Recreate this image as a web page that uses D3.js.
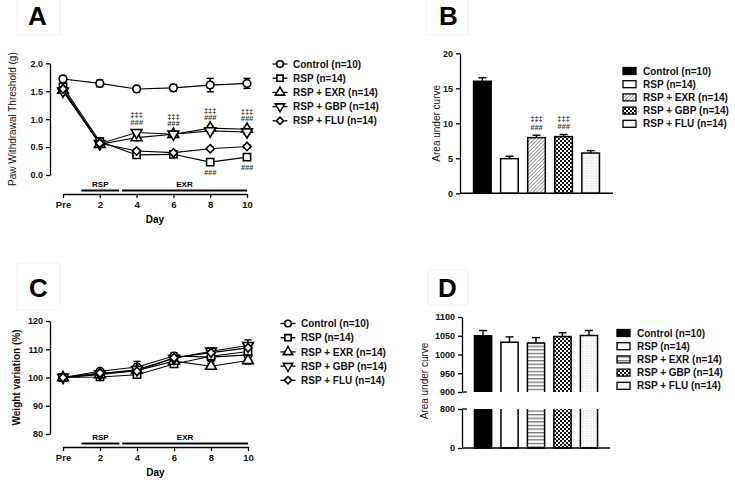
<!DOCTYPE html>
<html><head><meta charset="utf-8">
<script src="https://cdn.jsdelivr.net/npm/d3@7"></script>
<style>body{margin:0;background:#fff} svg{display:block;font-family:"Liberation Sans",Arial,sans-serif}</style>
</head><body><svg id="c" width="735" height="482"></svg>
<script>
// ---------- DATA ----------
const days = [0, 2, 4, 6, 8, 10];
const dayLabels = ["Pre", "2", "4", "6", "8", "10"];
const groups = ["Control (n=10)", "RSP (n=14)", "RSP + EXR (n=14)", "RSP + GBP (n=14)", "RSP + FLU (n=14)"];
const phaseLabels = ["RSP", "EXR"];
const phaseStart = [1, 3.2];
const phaseEnd = [3.05, 10];

// Panel A: paw withdrawal threshold (g)
const pawControl = [1.72, 1.64, 1.54, 1.56, 1.61, 1.64];
const pawRSP     = [1.58, 0.60, 0.36, 0.37, 0.23, 0.32];
const pawEXR     = [1.52, 0.55, 0.67, 0.73, 0.84, 0.82];
const pawGBP     = [1.50, 0.56, 0.76, 0.73, 0.79, 0.77];
const pawFLU     = [1.54, 0.57, 0.43, 0.40, 0.47, 0.51];
const pawControlErr = [0.05, 0.06, 0.05, 0.06, 0.12, 0.09];
const pawRSPErr     = [0.05, 0.04, 0.04, 0.03, 0.04, 0.04];
const pawEXRErr     = [0.04, 0.03, 0.05, 0.04, 0.04, 0.04];
const pawGBPErr     = [0.04, 0.03, 0.05, 0.04, 0.04, 0.04];
const pawFLUErr     = [0.04, 0.03, 0.03, 0.03, 0.03, 0.03];
const pawSigUpperDays = [4, 6, 8, 10];   // ‡‡‡ / ### above EXR & GBP
const pawSigRSPDays = [8, 10];           // ### below RSP

// Panel B: AUC of paw threshold
const aucPaw    = [16.0, 4.95, 7.95, 8.1, 5.75];
const aucPawErr = [0.5, 0.35, 0.35, 0.3, 0.35];
const aucPawSig = [false, false, true, true, false];

// Panel C: weight variation (%)
const wtControl = [100, 102.2, 103.7, 107.6, 107.2, 108.0];
const wtRSP     = [100, 100.2, 101.0, 104.8, 107.5, 109.2];
const wtEXR     = [100, 101.0, 102.5, 105.8, 104.0, 106.0];
const wtGBP     = [100, 101.3, 102.8, 106.8, 109.3, 111.3];
const wtFLU     = [100, 101.6, 102.2, 107.0, 108.8, 110.5];
const wtControlErr = [0.3, 0.5, 2.0, 1.2, 1.5, 1.5];
const wtRSPErr     = [0.3, 0.6, 1.0, 1.2, 1.4, 1.5];
const wtEXRErr     = [0.3, 0.7, 1.0, 1.0, 1.0, 1.2];
const wtGBPErr     = [0.3, 0.6, 1.0, 1.0, 1.2, 2.0];
const wtFLUErr     = [0.3, 0.6, 1.0, 1.0, 1.2, 1.5];

// Panel D: AUC of weight
const aucWt    = [1050, 1033, 1031, 1048, 1051];
const aucWtErr = [14, 14, 14, 10, 13];

const pawTicks = [0, 0.5, 1.0, 1.5, 2.0];
const aucPawTicks = [0, 5, 10, 15, 20];
const wtTicks = [80, 90, 100, 110, 120];
const aucWtTopTicks = [900, 950, 1000, 1050, 1100];
const aucWtBotTicks = [0, 800];

// ---------- DRAW ----------
const svg = d3.select("#c");
const defs = svg.append("defs");
// patterns
const ph = defs.append("pattern").attr("id","hatch").attr("patternUnits","userSpaceOnUse")
  .attr("width",2.6).attr("height",2.6).attr("patternTransform","rotate(45)");
ph.append("rect").attr("width",2.6).attr("height",2.6).attr("fill","#fff");
ph.append("line").attr("x1",0).attr("y1",0).attr("x2",0).attr("y2",2.6).attr("stroke","#555").attr("stroke-width",1.1);
const pc = defs.append("pattern").attr("id","check").attr("patternUnits","userSpaceOnUse").attr("width",4).attr("height",4);
pc.append("rect").attr("width",4).attr("height",4).attr("fill","#fff");
pc.append("rect").attr("width",2).attr("height",2).attr("fill","#111");
pc.append("rect").attr("x",2).attr("y",2).attr("width",2).attr("height",2).attr("fill","#111");
const pd = defs.append("pattern").attr("id","dots").attr("patternUnits","userSpaceOnUse").attr("width",2.5).attr("height",2.5);
pd.append("rect").attr("width",2.5).attr("height",2.5).attr("fill","#fff");
pd.append("rect").attr("x",0.5).attr("y",0.5).attr("width",0.9).attr("height",0.9).attr("fill","#b5b5b5");
const ps = defs.append("pattern").attr("id","hstripe").attr("patternUnits","userSpaceOnUse").attr("width",4).attr("height",3.6);
ps.append("rect").attr("width",4).attr("height",3.6).attr("fill","#fff");
ps.append("rect").attr("y",0).attr("width",4).attr("height",1.3).attr("fill","#777");

const fillsB = ["#000", "#fff", "url(#hatch)", "url(#check)", "url(#dots)"];
const fillsD = ["#000", "#fff", "url(#hstripe)", "url(#check)", "url(#dots)"];

// marker shapes
const symTypes = [d3.symbolCircle, d3.symbolSquare, d3.symbolTriangle, d3.symbolTriangle, d3.symbolSquare];
const symSizes = [46, 52, 50, 50, 34];
const symRot = [0, 0, 0, 180, 45];
function marker(g, i, x, y, scale) {
  const s = scale || 1;
  g.append("path").attr("d", d3.symbol().type(symTypes[i]).size(symSizes[i] * s)())
    .attr("transform", `translate(${x},${y}) rotate(${symRot[i]})`)
    .attr("fill", "#fff").attr("stroke", "#000").attr("stroke-width", 1.6);
}

function styleAxis(g) {
  g.selectAll("path.domain").attr("stroke", "#000").attr("stroke-width", 1.3);
  g.selectAll(".tick line").attr("stroke", "#000").attr("stroke-width", 1.3);
  g.selectAll(".tick text").attr("font-size", 9).attr("font-weight", "bold").attr("fill", "#111")
    .attr("font-family", "Liberation Sans, Arial, sans-serif");
}

function letter(txt, x, y, bx, by, bw, bh) {
  svg.append("rect").attr("x", bx).attr("y", by).attr("width", bw).attr("height", bh)
    .attr("fill", "none").attr("stroke", "#f0f0f0").attr("stroke-width", 1);
  svg.append("text").attr("x", x).attr("y", y).attr("font-size", 26).attr("font-weight", "bold").text(txt);
}

function lineChart(opts) {
  const { series, errs, x, y, yTicks, yFmt, xAxisY, yAxisX, title, titleX, titleBold, legX, legY0 } = opts;
  const g = svg.append("g");
  // y axis
  const ya = g.append("g").attr("transform", `translate(${yAxisX},0)`)
    .call(d3.axisLeft(y).tickValues(yTicks).tickFormat(yFmt).tickSize(4).tickSizeOuter(0));
  styleAxis(ya);
  // x axis
  const xa = g.append("g").attr("transform", `translate(0,${xAxisY})`)
    .call(d3.axisBottom(x).tickValues(days).tickFormat((d, i) => dayLabels[i]).tickSize(4).tickSizeOuter(0));
  styleAxis(xa);
  xa.selectAll(".tick text").attr("font-size", 9.5);
  // phase bars
  phaseLabels.forEach((lab, i) => {
    g.append("line").attr("x1", x(phaseStart[i])).attr("x2", x(phaseEnd[i]))
      .attr("y1", xAxisY - 3.5).attr("y2", xAxisY - 3.5).attr("stroke", "#000").attr("stroke-width", 2.2);
    g.append("text").attr("x", (x(phaseStart[i]) + x(phaseEnd[i])) / 2).attr("y", xAxisY - 7)
      .attr("text-anchor", "middle").attr("font-size", 8).attr("font-weight", "bold").text(lab);
  });
  // title
  g.append("text").attr("transform", `translate(${titleX},${(y.range()[0] + y.range()[1]) / 2}) rotate(-90)`)
    .attr("text-anchor", "middle").attr("font-size", 10).attr("font-weight", titleBold ? "bold" : "normal")
    .attr("fill", "#111").text(title);
  g.append("text").attr("x", (x(0) + x(10)) / 2).attr("y", xAxisY + 29).attr("text-anchor", "middle")
    .attr("font-size", 10).attr("font-weight", "bold").text("Day");
  // series
  const line = d3.line().x((d, i) => x(days[i])).y(d => y(d));
  series.forEach((s, si) => {
    g.append("path").attr("d", line(s)).attr("fill", "none").attr("stroke", "#000").attr("stroke-width", 1.1);
  });
  series.forEach((s, si) => {
    s.forEach((v, i) => {
      const e = errs[si][i];
      const cx = x(days[i]);
      g.append("line").attr("x1", cx).attr("x2", cx).attr("y1", y(v - e)).attr("y2", y(v + e)).attr("stroke", "#000").attr("stroke-width", 1.4);
      [v - e, v + e].forEach(w => g.append("line").attr("x1", cx - 3.5).attr("x2", cx + 3.5).attr("y1", y(w)).attr("y2", y(w)).attr("stroke", "#000").attr("stroke-width", 1.4));
    });
  });
  series.forEach((s, si) => {
    s.forEach((v, i) => marker(g, si, x(days[i]), y(v)));
  });
  // legend
  groups.forEach((name, i) => {
    const ly = legY0 + i * 14.2;
    g.append("line").attr("x1", legX - 7.5).attr("x2", legX + 7.5).attr("y1", ly).attr("y2", ly).attr("stroke", "#000").attr("stroke-width", 1.3);
    marker(g, i, legX, ly, 0.75);
    g.append("text").attr("x", legX + 13).attr("y", ly + 3.6).attr("font-size", 10).attr("font-weight", "bold").attr("fill", "#111").text(name);
  });
  return g;
}

// ---- Panel A ----
letter("A", 28, 25, 17, -1, 43, 36);
const xA = d3.scaleLinear().domain([0, 10]).range([63, 247]);
const yA = d3.scaleLinear().domain([0, 2]).range([175, 63.3]);
const gA = lineChart({
  series: [pawControl, pawRSP, pawEXR, pawGBP, pawFLU],
  errs: [pawControlErr, pawRSPErr, pawEXRErr, pawGBPErr, pawFLUErr],
  x: xA, y: yA, yTicks: pawTicks, yFmt: d3.format(".1f"), xAxisY: 194, yAxisX: 50,
  title: "Paw Withdrawal Threshold (g)", titleX: 16, titleBold: false, legX: 280, legY0: 64
});
pawSigUpperDays.forEach(d => {
  const i = days.indexOf(d);
  const top = yA(Math.max(pawEXR[i], pawGBP[i]));
  gA.append("text").attr("x", xA(d)).attr("y", top - 15.5).attr("text-anchor", "middle").attr("font-size", 7.5).attr("font-weight", "bold").attr("fill", "#333").text("‡‡‡");
  gA.append("text").attr("x", xA(d)).attr("y", top - 8).attr("text-anchor", "middle").attr("font-size", 7.5).attr("font-weight", "bold").attr("font-style", "italic").attr("fill", "#333").text("###");
});
pawSigRSPDays.forEach(d => {
  const i = days.indexOf(d);
  gA.append("text").attr("x", xA(d)).attr("y", yA(pawRSP[i]) + 13).attr("text-anchor", "middle").attr("font-size", 7.5).attr("font-weight", "bold").attr("font-style", "italic").attr("fill", "#333").text("###");
});

// ---- Panel C ----
letter("C", 29, 297, 17, 263, 43, 47);
const xC = d3.scaleLinear().domain([0, 10]).range([63, 248]);
const yC = d3.scaleLinear().domain([80, 120]).range([434, 321]);
lineChart({
  series: [wtControl, wtRSP, wtEXR, wtGBP, wtFLU],
  errs: [wtControlErr, wtRSPErr, wtEXRErr, wtGBPErr, wtFLUErr],
  x: xC, y: yC, yTicks: wtTicks, yFmt: d3.format("d"), xAxisY: 447, yAxisX: 50,
  title: "Weight variation (%)", titleX: 20, titleBold: true, legX: 288, legY0: 323.5
});

// bar legend
function barLegend(g, fills, x0, y0, tx) {
  groups.forEach((name, i) => {
    const ly = y0 + i * 13.2;
    g.append("rect").attr("x", x0).attr("y", ly - 3.5).attr("width", 13).attr("height", 7)
      .attr("fill", fills[i]).attr("stroke", "#000").attr("stroke-width", 1.3);
    g.append("text").attr("x", tx).attr("y", ly + 3.6).attr("font-size", 10).attr("font-weight", "bold").attr("fill", "#111").text(name);
  });
}
function errUp(g, cx, y0, y1) {
  g.append("line").attr("x1", cx).attr("x2", cx).attr("y1", y0).attr("y2", y1).attr("stroke", "#000").attr("stroke-width", 1.4);
  g.append("line").attr("x1", cx - 4).attr("x2", cx + 4).attr("y1", y1).attr("y2", y1).attr("stroke", "#000").attr("stroke-width", 1.4);
}

// ---- Panel B ----
letter("B", 439, 25, 427, -1, 41, 36);
const gB = svg.append("g");
const xB = d3.scaleBand().domain(groups).range([460, 613]).paddingInner(0.35).paddingOuter(0.5);
const yB = d3.scaleLinear().domain([0, 20]).range([193.3, 53.3]);
const yaB = gB.append("g").attr("transform", "translate(460,0)")
  .call(d3.axisLeft(yB).tickValues(aucPawTicks).tickFormat(d3.format("d")).tickSize(4).tickSizeOuter(0));
styleAxis(yaB);
groups.forEach((gname, i) => {
  const bx = xB(gname), bw = xB.bandwidth(), cx = bx + bw / 2;
  errUp(gB, cx, yB(aucPaw[i]), yB(aucPaw[i] + aucPawErr[i]));
  gB.append("rect").attr("x", bx).attr("y", yB(aucPaw[i])).attr("width", bw).attr("height", yB(0) - yB(aucPaw[i]))
    .attr("fill", fillsB[i]).attr("stroke", "#000").attr("stroke-width", 1.5);
  if (aucPawSig[i]) {
    const top = yB(aucPaw[i] + aucPawErr[i]);
    gB.append("text").attr("x", cx).attr("y", top - 14).attr("text-anchor", "middle").attr("font-size", 7.5).attr("font-weight", "bold").attr("fill", "#333").text("‡‡‡");
    gB.append("text").attr("x", cx).attr("y", top - 5.5).attr("text-anchor", "middle").attr("font-size", 7.5).attr("font-weight", "bold").attr("font-style", "italic").attr("fill", "#333").text("###");
  }
});
gB.append("line").attr("x1", 460).attr("x2", 613).attr("y1", yB(0)).attr("y2", yB(0)).attr("stroke", "#000").attr("stroke-width", 1.4);
gB.append("text").attr("transform", `translate(440,${(yB(0) + yB(20)) / 2}) rotate(-90)`).attr("text-anchor", "middle")
  .attr("font-size", 10).attr("fill", "#111").text("Area under curve");
barLegend(gB, fillsB, 623, 71, 643);

// ---- Panel D ----
letter("D", 438, 297, 428, 270, 40, 35);
const gD = svg.append("g");
const xD = d3.scaleBand().domain(groups).range([462, 610]).paddingInner(0.35).paddingOuter(0.47);
const yDt = d3.scaleLinear().domain([900, 1100]).range([392, 317]);
const yDb = d3.scaleLinear().domain([0, 800]).range([448, 409]);
const yaDt = gD.append("g").attr("transform", "translate(462,0)")
  .call(d3.axisLeft(yDt).tickValues(aucWtTopTicks).tickFormat(d3.format("d")).tickSize(4).tickSizeOuter(0));
styleAxis(yaDt);
const yaDb = gD.append("g").attr("transform", "translate(462,0)")
  .call(d3.axisLeft(yDb).tickValues(aucWtBotTicks).tickFormat(d3.format("d")).tickSize(4).tickSizeOuter(0));
styleAxis(yaDb);
[yDt(900), yDb(800)].forEach(yy => gD.append("line").attr("x1", 462).attr("x2", 467).attr("y1", yy).attr("y2", yy).attr("stroke", "#000").attr("stroke-width", 1.3));
groups.forEach((gname, i) => {
  const bx = xD(gname), bw = xD.bandwidth(), cx = bx + bw / 2;
  errUp(gD, cx, yDt(aucWt[i]), yDt(aucWt[i] + aucWtErr[i]));
  // top segment
  const t = yDt(aucWt[i]), b = yDt(900);
  gD.append("rect").attr("x", bx).attr("y", t).attr("width", bw).attr("height", b - t).attr("fill", fillsD[i]);
  gD.append("path").attr("d", `M${bx},${b}V${t}H${bx + bw}V${b}`).attr("fill", "none").attr("stroke", "#000").attr("stroke-width", 1.5);
  // bottom segment
  const t2 = yDb(800), b2 = yDb(0);
  gD.append("rect").attr("x", bx).attr("y", t2).attr("width", bw).attr("height", b2 - t2).attr("fill", fillsD[i]);
  gD.append("path").attr("d", `M${bx},${t2}V${b2}H${bx + bw}V${t2}`).attr("fill", "none").attr("stroke", "#000").attr("stroke-width", 1.5);
});
gD.append("line").attr("x1", 462).attr("x2", 610).attr("y1", yDb(0)).attr("y2", yDb(0)).attr("stroke", "#000").attr("stroke-width", 1.4);
gD.append("text").attr("transform", `translate(428,381) rotate(-90)`).attr("text-anchor", "middle")
  .attr("font-size", 10).attr("fill", "#111").text("Area under curve");
barLegend(gD, fillsD, 617, 333, 637);
</script></body></html>
